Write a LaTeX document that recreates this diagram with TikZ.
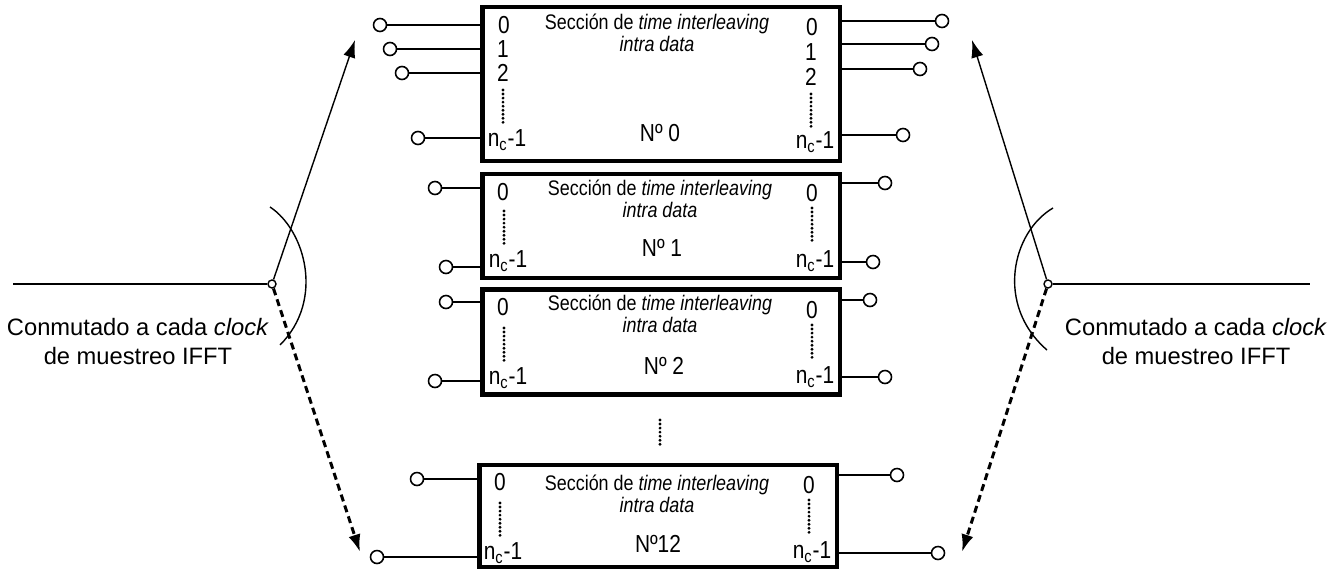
\documentclass[tikz,border=0pt]{standalone}
\usepackage{fontspec}
\setmainfont{Liberation Sans}
\newfontfamily\narrowfont[FakeStretch=0.85]{Liberation Sans}
\usetikzlibrary{arrows.meta}

\begin{document}
\begin{tikzpicture}[x=0.02cm, y=-0.02cm,
    secbox/.style={draw, line width=2.8pt, minimum width=7.16cm, inner sep=0pt},
    pin/.style={draw, circle, line width=0.9pt, minimum size=0.26cm, inner sep=0pt},
    pinline/.style={line width=0.9pt},
    lbl/.style={font=\narrowfont\fontsize{14}{14}\selectfont, inner sep=0pt},
    ttl/.style={font=\narrowfont\fontsize{12}{12.5}\selectfont, align=center, inner sep=0pt},
    dotline/.style={line width=1.8pt, line cap=round, dash pattern=on 0pt off 2.3pt},
    note/.style={font=\fontsize{13.5}{16.5}\selectfont, align=center, inner sep=0pt},
    swdot/.style={draw, circle, line width=0.8pt, minimum size=0.16cm, inner sep=0pt},
    swline/.style={line width=0.8pt},
    solidarrow/.style={line width=0.8pt, -{Latex[length=10pt,width=7pt]}},
    dashedarrow/.style={line width=1.7pt, dash pattern=on 4pt off 2.5pt, -{Latex[length=10pt,width=7pt]}}]
  \useasboundingbox (0,0) rectangle (1341,571);

  % sections
  \node[secbox, minimum height=3.08cm] (b0) at (661,84) {};
  \node[secbox, minimum height=2.08cm] (b1) at (661,226) {};
  \node[secbox, minimum height=2.10cm] (b2) at (661,342) {};
  \node[secbox, minimum height=2.04cm] (b12) at (658,516) {};

  % titles
  \node[ttl] (t0) at (657,33) {Secci\'on de \textit{time interleaving}\\\textit{intra data}};
  \node[ttl] (t1) at (660,199) {Secci\'on de \textit{time interleaving}\\\textit{intra data}};
  \node[ttl] (t2) at (660,314) {Secci\'on de \textit{time interleaving}\\\textit{intra data}};
  \node[ttl] (t12) at (657,494) {Secci\'on de \textit{time interleaving}\\\textit{intra data}};
  \node[lbl] (n0) at (660,133) {Nº 0};
  \node[lbl] (n1) at (662,248) {Nº 1};
  \node[lbl] (n2) at (664,366) {Nº 2};
  \node[lbl] (n12) at (658,544) {Nº12};

  % section 0
  \node[pin] (p0a) at (380,25) {};
  \node[pin] (p0b) at (390,49) {};
  \node[pin] (p0c) at (402,73) {};
  \node[pin] (p0d) at (418,138) {};
  \node[pin] (q0a) at (942,21) {};
  \node[pin] (q0b) at (932,44) {};
  \node[pin] (q0c) at (920,69) {};
  \node[pin] (q0d) at (903,135) {};
  \foreach \p in {a,b,c,d} {
    \draw[pinline] (p0\p) -- (p0\p -| b0.west);
    \draw[pinline] (q0\p) -- (q0\p -| b0.east);
  }
  \node[lbl] (l0a) at (504,25) {0};
  \node[lbl] (l0b) at (503,49) {1};
  \node[lbl] (l0c) at (503,73) {2};
  \node[lbl] (l0d) at (507,140) {n\textsubscript{c}-1};
  \node[lbl] (r0a) at (812,27) {0};
  \node[lbl] (r0b) at (811,52) {1};
  \node[lbl] (r0c) at (811,77) {2};
  \node[lbl] (r0d) at (815,142) {n\textsubscript{c}-1};
  \draw[dotline] (503,90) -- (503,125);
  \draw[dotline] (811,94) -- (811,127);

  % section 1
  \node[pin] (p1a) at (435,188) {};
  \node[pin] (p1b) at (446,267) {};
  \node[pin] (q1a) at (885,183) {};
  \node[pin] (q1b) at (873,262) {};
  \node[lbl] (l1a) at (503,192) {0};
  \node[lbl] (l1b) at (508,261) {n\textsubscript{c}-1};
  \node[lbl] (r1a) at (812,193) {0};
  \node[lbl] (r1b) at (815,261) {n\textsubscript{c}-1};
  \draw[dotline] (504,211) -- (504,245);
  \draw[dotline] (812,208) -- (812,242);

  % section 2
  \node[pin] (p2a) at (446,302) {};
  \node[pin] (p2b) at (435,381) {};
  \node[pin] (q2a) at (870,300) {};
  \node[pin] (q2b) at (885,377) {};
  \node[lbl] (l2a) at (503,307) {0};
  \node[lbl] (l2b) at (508,378) {n\textsubscript{c}-1};
  \node[lbl] (r2a) at (812,310) {0};
  \node[lbl] (r2b) at (815,377) {n\textsubscript{c}-1};
  \draw[dotline] (504,328) -- (504,362);
  \draw[dotline] (812,325) -- (812,358);

  % section 12
  \node[pin] (p12a) at (417,479) {};
  \node[pin] (p12b) at (377,557) {};
  \node[pin] (q12a) at (897,475) {};
  \node[pin] (q12b) at (938,553) {};
  \node[lbl] (l12a) at (500,482) {0};
  \node[lbl] (l12b) at (503,553) {n\textsubscript{c}-1};
  \node[lbl] (r12a) at (809,485) {0};
  \node[lbl] (r12b) at (812,552) {n\textsubscript{c}-1};
  \draw[dotline] (500,503) -- (500,537);
  \draw[dotline] (809,500) -- (809,533);

  \foreach \s in {1,2,12} {
    \foreach \p in {a,b} {
      \draw[pinline] (p\s\p) -- (p\s\p -| b\s.west);
      \draw[pinline] (q\s\p) -- (q\s\p -| b\s.east);
    }
  }

  % more sections
  \coordinate (vd1) at (660,420);
  \coordinate (vd2) at (660,446);
  \draw[dotline] (vd1) -- (vd2);

  % left switch
  \coordinate (lin) at (13,284);
  \node[swdot] (lsw) at (272,284) {};
  \coordinate (ltop) at (355,40);
  \coordinate (lbot) at (360,552);
  \draw[swline] (lin) -- (lsw);
  \draw[solidarrow] (lsw) -- (ltop);
  \draw[dashedarrow] (lsw) -- (lbot);
  \draw[swline] (270,207) .. controls (305,230) and (325,300) .. (280,345);
  \node[note] (ltxt) at (138,342) {Conmutado a cada \textit{clock}\\de muestreo IFFT};

  % right switch
  \coordinate (rin) at (1310,284);
  \node[swdot] (rsw) at (1048,284) {};
  \coordinate (rtop) at (972,40);
  \coordinate (rbot) at (962,552);
  \draw[swline] (rsw) -- (rin);
  \draw[solidarrow] (rsw) -- (rtop);
  \draw[dashedarrow] (rsw) -- (rbot);
  \draw[swline] (1053,208) .. controls (1012,232) and (995,305) .. (1047,350);
  \node[note] (rtxt) at (1196,342) {Conmutado a cada \textit{clock}\\de muestreo IFFT};
\end{tikzpicture}
\end{document}
